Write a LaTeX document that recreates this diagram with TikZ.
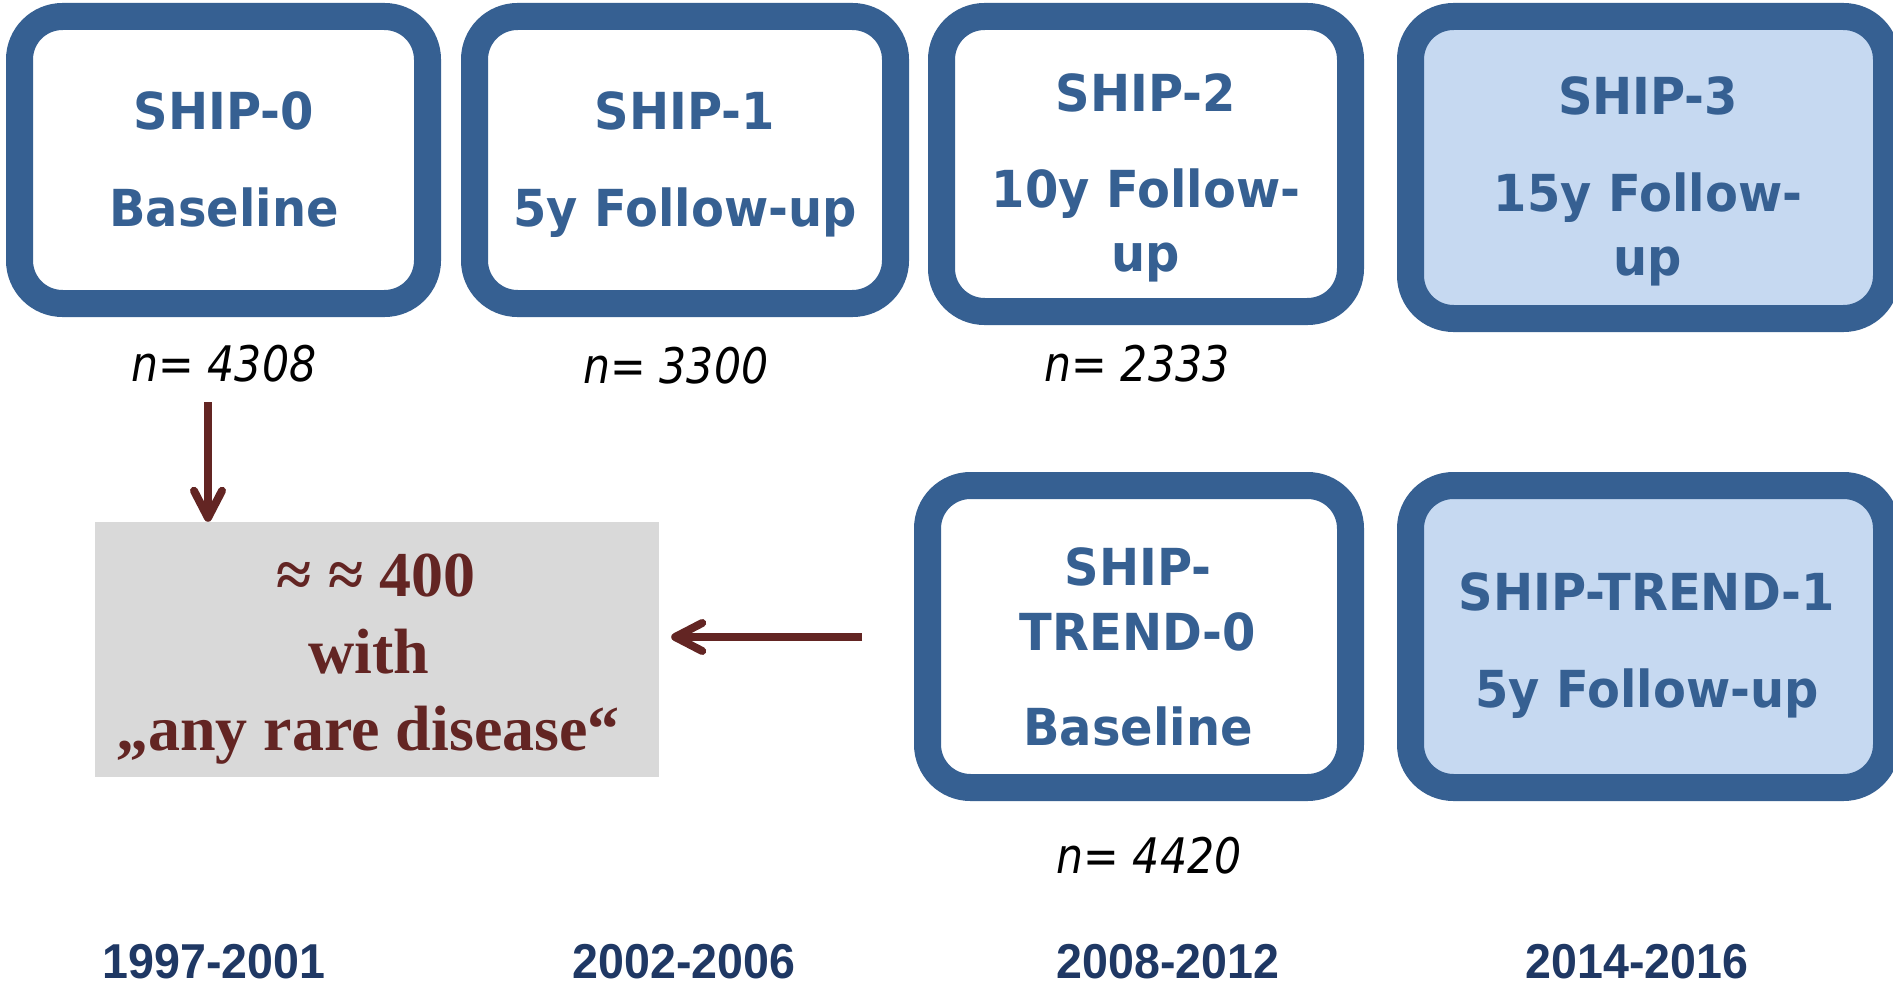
\documentclass[tikz,border=0pt]{standalone}
\usepackage{fontspec}
\usetikzlibrary{arrows.meta}
\newfontfamily\boxfont{DejaVu Sans}[FakeStretch=0.94]
\newfontfamily\nfont{DejaVu Sans}[FakeStretch=0.87]
\newfontfamily\yearfont{Liberation Sans}[FakeStretch=0.95]
\newfontfamily\grayfont{Liberation Serif}
\definecolor{shipblue}{RGB}{54,96,146}
\definecolor{shiplight}{RGB}{198,217,241}
\definecolor{arrowred}{RGB}{99,37,35}
\definecolor{yearnavy}{RGB}{31,56,100}
\definecolor{boxgray}{RGB}{217,217,217}
\tikzset{
  shipbox/.style={draw=shipblue, line width=27pt, rounded corners=43pt, fill=white, rectangle, inner sep=0pt},
  lightbox/.style={shipbox, fill=shiplight},
  boxtxt/.style={anchor=base, inner sep=0pt, text=shipblue, font=\boxfont\bfseries\fontsize{51}{60}\selectfont},
  ntxt/.style={anchor=base, inner sep=0pt, text=black, font=\nfont\itshape\fontsize{49}{58}\selectfont},
  yeartxt/.style={anchor=base, inner sep=0pt, text=yearnavy, font=\yearfont\bfseries\fontsize{49}{58}\selectfont},
  graytxt/.style={anchor=base, inner sep=0pt, text=arrowred, font=\grayfont\bfseries\fontsize{64}{77}\selectfont},
  redarrow/.style={draw=arrowred, line width=8pt, -{Straight Barb[length=27pt,width=28pt,line cap=round,line join=round]}}
}
\begin{document}
\begin{tikzpicture}[x=1pt,y=-1pt]
\useasboundingbox (0,0) rectangle (1893,987);
\fill[white] (0,0) rectangle (1893,987);
% boxes
\node[shipbox, minimum width=408pt, minimum height=287pt] (s0) at (223.5,160) {};
\node[shipbox, minimum width=421pt, minimum height=287pt] (s1) at (685,160) {};
\node[shipbox, minimum width=409pt, minimum height=295pt] (s2) at (1146,164) {};
\node[lightbox, minimum width=476pt, minimum height=302pt] (s3) at (1648.5,167.5) {};
\node[shipbox, minimum width=423pt, minimum height=302pt] (t0) at (1139,636.5) {};
\node[lightbox, minimum width=476pt, minimum height=302pt] (t1) at (1648.5,636.5) {};
% box texts
\node[boxtxt] (s0a) at (224,130) {SHIP-0};
\node[boxtxt] (s0b) at (224,227) {Baseline};
\node[boxtxt] (s1a) at (685,130) {SHIP-1};
\node[boxtxt] (s1b) at (685,227) {5y Follow-up};
\node[boxtxt] (s2a) at (1146,112) {SHIP-2};
\node[boxtxt] (s2b) at (1146,208) {10y Follow-};
\node[boxtxt] (s2c) at (1146,272) {up};
\node[boxtxt] (s3a) at (1648,115) {SHIP-3};
\node[boxtxt] (s3b) at (1648,212) {15y Follow-};
\node[boxtxt] (s3c) at (1648,275) {up};
\node[boxtxt] (t0a) at (1138,585) {SHIP-};
\node[boxtxt] (t0b) at (1138,650) {TREND-0};
\node[boxtxt] (t0c) at (1138,745) {Baseline};
\node[boxtxt] (t1a) at (1647,610) {SHIP-TREND-1};
\node[boxtxt] (t1b) at (1647,707) {5y Follow-up};
% n labels
\node[ntxt] (n0) at (224,381) {n= 4308};
\node[ntxt] (n1) at (676,383) {n= 3300};
\node[ntxt] (n2) at (1137,381) {n= 2333};
\node[ntxt] (n3) at (1149,873) {n= 4420};
% gray box
\node[fill=boxgray, rectangle, inner sep=0pt, minimum width=564pt, minimum height=255pt] (gray) at (377,649.5) {};
\node[graytxt] (g1) at (376,596) {≈ ≈ 400};
\node[graytxt] (g2) at (369,673) {with};
\node[graytxt] (g3) at (368,750) {„any rare disease“};
% arrows
\coordinate (dstart) at (208,402);
\draw[redarrow] (dstart) -- (dstart |- gray.north);
\coordinate (lstart) at (862,637);
\draw[redarrow, shorten >=12pt] (lstart) -- (lstart -| gray.east);
% years
\node[yeartxt] (y0) at (214,978) {1997-2001};
\node[yeartxt] (y1) at (684,978) {2002-2006};
\node[yeartxt] (y2) at (1168,978) {2008-2012};
\node[yeartxt] (y3) at (1637,978) {2014-2016};
\end{tikzpicture}
\end{document}
